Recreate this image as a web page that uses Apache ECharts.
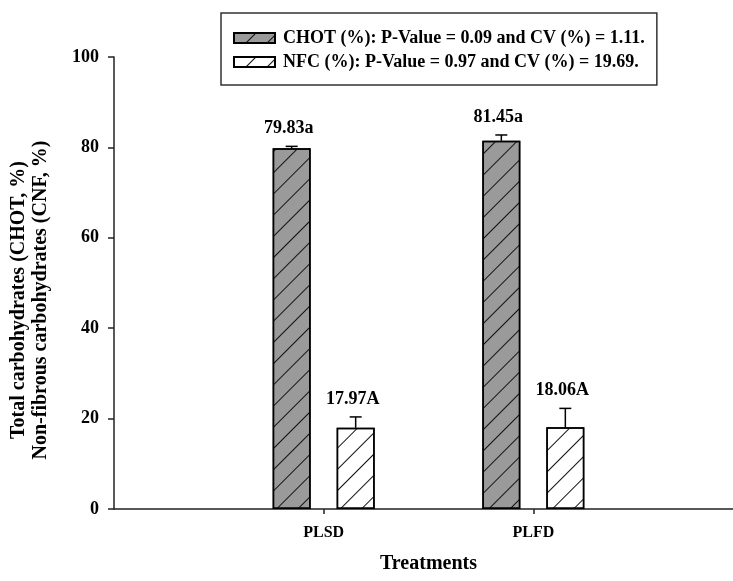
<!DOCTYPE html>
<html>
<head>
<meta charset="utf-8">
<script src="https://cdn.jsdelivr.net/npm/echarts@6/dist/echarts.min.js"></script>
<style>
  html, body { margin: 0; padding: 0; background: #fff; }
  #chart { width: 733px; height: 581px; }
</style>
</head>
<body>
<div id="chart"></div>
<script>
// ── Data ────────────────────────────────────────────────────────────────────
const categories = ["", "PLSD", "PLFD", " "];
const chotMeans = ["-", 79.83, 81.45, "-"];
const nfcMeans = ["-", 17.97, 18.06, "-"];
const chotErrors = [0.4, 1.3];
const nfcErrors = [2.4, 4.2];
const chotLabels = ["79.83a", "81.45a"];
const nfcLabels = ["17.97A", "18.06A"];
const legendNames = [
  "CHOT (%): P-Value = 0.09 and CV (%) = 1.11.",
  "NFC (%): P-Value = 0.97 and CV (%) = 19.69.",
];
const yTicks = { min: 0, max: 100, interval: 20 };

(function () {
  const chart = echarts.init(document.getElementById("chart"));
  const FONT = "Liberation Serif";
  const BAR_W = 38;
  const BAR_GAP = 26;
  const half = (BAR_W + BAR_GAP) / 2;

  // thin "/" hatching like the original plot
  const hatch = {
    symbol: "rect",
    dashArrayX: [1, 0],
    dashArrayY: [1, 14],
    rotation: -Math.PI / 4,
    color: "#111",
  };

  // error bar rows: [categoryIndex, mean, err]
  function errRows(means, errs) {
    return [1, 2].map((c, i) => [c, means[c], errs[i]]);
  }

  function errorRenderer(offset, labels) {
    return function (params, api) {
      const c = api.value(0), m = api.value(1), e = api.value(2);
      const base = api.coord([c, m]);
      const top = api.coord([c, m + e]);
      const cx = base[0] + offset;
      const line = { stroke: "#000", lineWidth: 1.5 };
      return {
        type: "group",
        children: [
          { type: "line", shape: { x1: cx, y1: base[1], x2: cx, y2: top[1] }, style: line },
          { type: "line", shape: { x1: cx - 6, y1: top[1], x2: cx + 6, y2: top[1] }, style: line },
          {
            type: "text",
            style: {
              text: labels[params.dataIndex],
              x: cx - 3,
              y: top[1] - 9,
              align: "center",
              verticalAlign: "bottom",
              font: "bold 18px '" + FONT + "'",
              fill: "#000",
            },
          },
        ],
      };
    };
  }

  const option = {
    backgroundColor: "#fff",
    animation: false,
    textStyle: { fontFamily: FONT },
    legend: {
      orient: "vertical",
      left: 221,
      top: 13,
      padding: [16, 12, 14, 12],
      itemGap: 6,
      itemWidth: 41,
      itemHeight: 10,
      icon: "rect",
      borderColor: "#333",
      borderWidth: 1.5,
      textStyle: { fontFamily: FONT, fontWeight: "bold", fontSize: 18, color: "#000", padding: [0, 0, 0, 3] },
      data: legendNames,
    },
    grid: { left: 114, right: -10, top: 57, bottom: 72, outerBoundsMode: "none" },
    xAxis: {
      type: "category",
      data: categories,
      boundaryGap: false,
      name: "Treatments",
      nameLocation: "middle",
      nameGap: 45,
      nameTextStyle: { fontFamily: FONT, fontWeight: "bold", fontSize: 20, color: "#000" },
      axisLine: { lineStyle: { color: "#222", width: 1.5 } },
      axisTick: {
        length: 5,
        interval: (i) => i === 1 || i === 2,
        lineStyle: { color: "#222", width: 1.5 },
      },
      axisLabel: {
        interval: (i) => i === 1 || i === 2,
        margin: 16,
        fontFamily: FONT,
        fontWeight: "bold",
        fontSize: 16,
        color: "#000",
      },
      splitLine: { show: false },
    },
    yAxis: {
      type: "value",
      min: yTicks.min,
      max: yTicks.max,
      interval: yTicks.interval,
      name: "Total carbohydrates (CHOT, %)\nNon-fibrous carbohydrates (CNF, %)",
      nameLocation: "middle",
      nameGap: 62,
      nameTextStyle: {
        fontFamily: FONT,
        fontWeight: "bold",
        fontSize: 20,
        lineHeight: 22,
        color: "#000",
        padding: [0, 34, 0, 0],
      },
      axisLine: { show: true, lineStyle: { color: "#222", width: 1.5 } },
      axisTick: { show: true, length: 6, lineStyle: { color: "#222", width: 1.5 } },
      axisLabel: { margin: 15, fontFamily: FONT, fontWeight: "bold", fontSize: 18, color: "#000" },
      splitLine: { show: false },
    },
    series: [
      {
        name: legendNames[0],
        type: "bar",
        data: chotMeans,
        barWidth: BAR_W,
        barGap: (BAR_GAP / BAR_W) * 100 + "%",
        itemStyle: { color: "#9a9a9a", borderColor: "#000", borderWidth: 1.5, decal: hatch },
      },
      {
        name: legendNames[1],
        type: "bar",
        data: nfcMeans,
        barWidth: BAR_W,
        itemStyle: { color: "#fff", borderColor: "#000", borderWidth: 1.5, decal: hatch },
      },
      {
        type: "custom",
        data: errRows(chotMeans, chotErrors),
        renderItem: errorRenderer(-half, chotLabels),
        z: 5,
        silent: true,
      },
      {
        type: "custom",
        data: errRows(nfcMeans, nfcErrors),
        renderItem: errorRenderer(half, nfcLabels),
        z: 5,
        silent: true,
      },
    ],
  };

  chart.setOption(option);
  window.addEventListener("resize", () => chart.resize());
})();
</script>
</body>
</html>
